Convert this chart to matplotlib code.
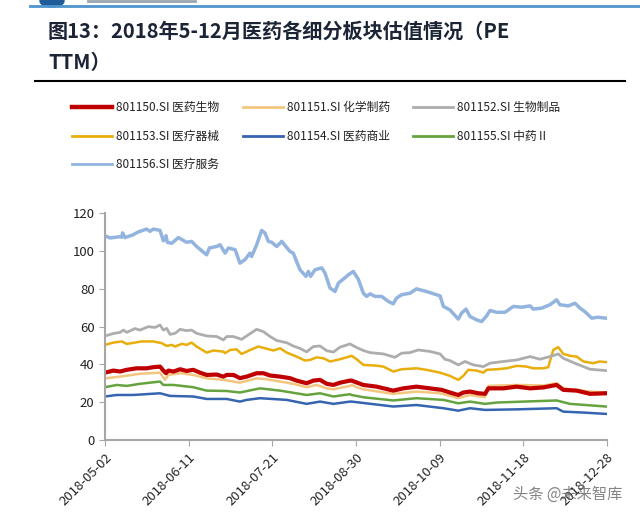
#!/usr/bin/env python3
"""PE TTM of pharma sub-sectors, May-Dec 2018."""

import matplotlib
matplotlib.use("Agg")
import matplotlib.pyplot as plt
import matplotlib.dates as mdates
from matplotlib.lines import Line2D
from matplotlib.patches import Ellipse
import pandas as pd

plt.rcParams["font.family"] = ["Noto Sans CJK SC", "DejaVu Sans"]

START = pd.Timestamp("2018-05-02")

# x values are days since 2018-05-02
svc_days = [0, 2.4, 7.2, 8.0, 8.4, 9.6, 13.5, 15.9, 19.9, 21.5, 23.1, 26.3, 27.9, 29.2, 29.8,
            31.9, 35.1, 39.0, 41.4, 43.8, 48.6, 49.9, 53.4, 55.0, 57.4, 59.0, 62.2, 64.5, 66.9,
            69.3, 70.1, 72.5, 74.9, 76.5, 78.1, 79.7, 82.1, 84.5, 88.4, 90.0, 93.2, 96.1, 97.2,
            98.3, 100.4, 103.6, 105.2, 107.6, 110.0, 111.6, 113.9, 116.3, 118.7, 121.1, 123.5,
            125.1, 126.7, 129.1, 132.3, 135.5, 137.8, 139.4, 141.8, 145.8, 148.9, 153.7, 160.2,
            161.8, 164.9, 168.9, 170.5, 172.6, 174.5, 177.7, 180.1, 182.5, 184.1, 187.3, 191.2,
            195.2, 199.2, 203.2, 204.8, 208.8, 212.7, 215.9, 217.5, 221.5, 224.7, 227.1, 229.5,
            232.7, 235.5, 239.5]
svc_vals = [108, 106.8, 107.5, 107.2, 109.5, 107, 108.5, 110, 111.5, 110.3, 111.5, 110.8, 105.3,
            108, 104.5, 104, 107, 104.5, 105, 102.3, 97.9, 101.5, 102.3, 103.2, 98.8, 101.5,
            100.6, 93.5, 95.3, 98.8, 97, 103.2, 110.8, 109.4, 105, 104.5, 102.3, 105, 99.7,
            98.8, 90, 86.5, 89.1, 86.5, 90, 91, 88.2, 80.3, 78.5, 83, 85, 87.3, 89.1, 85, 77.6,
            75.9, 77.3, 75.9, 75.9, 73.2, 72, 75, 76.8, 77.6, 79.9, 78.5, 76.2, 70.6, 68.8, 63.9,
            67.1, 69.2, 65.3, 63.5, 62.6, 65.7, 68.5, 67.5, 67.5, 70.6, 70.2, 70.9, 69.2, 69.7,
            71.5, 74.1, 71.5, 70.9, 72.3, 69.7, 67.8, 64.4, 64.9, 64.4]

bio_days = [0, 4.0, 7.2, 8.8, 10.4, 14.3, 16.7, 20.7, 23.9, 26.3, 27.9, 29.5, 31.1, 33.5, 35.9,
            39.0, 41.4, 43.8, 48.6, 53.4, 56.6, 58.2, 61.4, 65.3, 68.5, 72.5, 75.7, 78.9, 82.1,
            86.9, 90.0, 93.2, 96.4, 99.6, 102.8, 106.0, 109.2, 112.4, 115.5, 117.1, 120.3, 123.5,
            126.7, 133.1, 138.6, 141.8, 145.8, 149.7, 155.4, 160.2, 162.5, 164.9, 168.9, 172.1,
            176.1, 180.9, 184.1, 190.4, 196.8, 203.2, 208.0, 212.7, 216.7, 219.1, 225.5, 231.9,
            239.5]
bio_vals = [55.0, 56.3, 56.9, 58.1, 56.9, 58.9, 58.1, 59.9, 59.5, 60.8, 58.1, 59, 55.8, 56.4,
            58.5, 57.8, 58.1, 56.4, 55.0, 54.7, 52.9, 54.7, 54.7, 53.2, 55.6, 58.5, 57.3, 54.7,
            52.6, 51.4, 49.7, 48.4, 46.6, 49.4, 49.7, 47.2, 46.5, 49.1, 50.2, 50.8, 48.9, 47.3,
            46.2, 45.5, 43.7, 45.9, 46.2, 47.6, 46.8, 45.5, 42.7, 42, 39.7, 41.5, 39.7, 38.8,
            40.6, 41.5, 42.3, 44.1, 42.7, 44.1, 45.5, 43.2, 40.2, 37.4, 36.7]

dev_days = [0, 4.0, 8.0, 10.4, 14.3, 17.5, 23.1, 27.1, 29.5, 31.9, 33.5, 36.7, 39.0, 41.4, 43.8,
            48.6, 51.8, 56.6, 57.4, 59.8, 62.9, 65.3, 70.1, 73.3, 76.5, 80.5, 83.7, 86.9, 91.6,
            95.6, 98.0, 101.2, 104.4, 107.6, 112.4, 117.9, 120.3, 123.5, 129.9, 133.1, 137.8,
            141.8, 148.9, 153.7, 160.2, 164.9, 168.9, 171.3, 173.7, 177.7, 180.9, 182.5, 187.3,
            192.0, 196.8, 201.6, 204.8, 209.6, 211.9, 214.3, 216.7, 219.1, 222.3, 225.5, 228.7,
            233.5, 236.3, 239.5]
dev_vals = [50.3, 51.5, 52.1, 50.8, 51.5, 52.1, 52.1, 51.2, 49.7, 50.3, 49.4, 50.8, 50.3, 51.5,
            49.4, 46.2, 47.3, 46.7, 45.9, 47.6, 47.9, 45.5, 47.9, 49.4, 48.5, 47.3, 48.5, 46.2,
            44.1, 42, 42.3, 43.7, 43.2, 41.5, 42.7, 44.5, 42.7, 39.7, 39.3, 38.8, 36.2, 37.4,
            37.9, 37.1, 35.6, 33.9, 31.8, 33.9, 37.1, 36.7, 35.6, 37.1, 37.4, 37.9, 39.2, 38.8,
            37.9, 37.9, 38.5, 47.6, 49.1, 45.5, 44.5, 44.1, 41.5, 40.6, 41.5, 41.2]

all_days = [0, 4.0, 7.2, 10.4, 15.1, 19.9, 23.1, 26.3, 27.9, 29.2, 30.3, 32.7, 35.9, 39.0, 42.2,
            45.4, 48.6, 53.4, 56.6, 58.2, 61.4, 64.5, 67.7, 72.5, 75.7, 78.9, 83.7, 88.4, 91.6,
            96.4, 99.6, 102.8, 106.0, 109.2, 112.4, 117.1, 117.9, 123.5, 129.9, 137.8, 142.6,
            148.9, 155.4, 161.0, 164.9, 168.9, 171.3, 174.5, 178.5, 181.7, 183.3, 190.4, 196.8,
            203.2, 209.6, 215.9, 219.1, 225.5, 231.9, 239.5]
all_vals = [35.6, 36.7, 36.2, 37.1, 37.9, 37.9, 38.5, 38.8, 36.7, 35.3, 36.7, 36.2, 37.4, 36.5,
            37.1, 35.6, 34.4, 34.6, 33.5, 34.4, 34.4, 32.7, 33.5, 35.3, 35.3, 34.1, 33.5, 32.7,
            31.4, 30.0, 31.4, 31.8, 29.7, 29.1, 30.3, 31.4, 31.4, 29.1, 28.2, 26.1, 27.3, 28.2,
            27.3, 26.5, 25.1, 23.8, 25.1, 25.6, 24.7, 24.4, 27.3, 27.3, 28.2, 27.3, 27.8, 29.1,
            26.5, 26.1, 24.4, 24.7]

chem_days = [0, 7.2, 16.7, 26.3, 28.7, 30.3, 35.9, 42.2, 48.6, 56.6, 64.5, 72.5, 77.3, 83.7,
             90.0, 96.4, 101.2, 106.0, 109.2, 117.1, 121.9, 117.9, 123.5, 137.8, 148.9, 160.2,
             168.9, 174.5, 181.7, 183.3, 196.8, 209.6, 215.9, 219.1, 231.9, 239.5]
chem_vals = [32.6, 33.5, 35, 35.6, 31.8, 34.4, 35.3, 34.4, 32.6, 31.8, 30.3, 32.6, 32.1, 30.9,
             29.7, 27.9, 29.1, 27.3, 26.8, 28.6, 27.3, 29.1, 26.8, 24.4, 25.6, 24.7, 22.1, 23.8,
             22.6, 28.6, 29.1, 28.8, 30.0, 27.3, 25.6, 25.1]

tcm_days = [0, 5.6, 10.4, 16.7, 26.3, 27.9, 32.7, 42.2, 48.6, 58.2, 64.5, 74.1, 83.7, 96.4, 102.8,
            109.2, 117.1, 117.9, 123.5, 137.8, 148.9, 161.8, 168.9, 174.5, 181.7, 187.3, 200.0,
            215.9, 222.3, 239.5]
tcm_vals = [27.9, 29.1, 28.6, 29.7, 30.9, 29.1, 29.1, 27.9, 26.1, 25.9, 25.1, 27.3, 26.1, 23.8,
            24.7, 23, 24.2, 23.8, 22.6, 20.9, 22.1, 21.2, 19.4, 20.3, 19.1, 19.8, 20.3, 20.9, 19.1,
            17.7]

dist_days = [0, 5.6, 13.5, 26.3, 31.1, 42.2, 48.6, 58.2, 64.5, 67.7, 74.1, 86.9, 96.4, 102.8,
             109.2, 117.1, 117.9, 137.8, 148.9, 161.8, 168.9, 174.5, 181.7, 196.8, 215.9, 219.1,
             228.7, 239.5]
dist_vals = [23, 23.8, 23.8, 24.7, 23.3, 23, 21.7, 21.7, 20.3, 21.2, 22.1, 21.2, 19.1, 20.3,
             19.1, 20.3, 20.3, 17.7, 18.5, 16.8, 15.5, 16.8, 15.9, 16.2, 16.8, 15.0, 14.5, 13.8]

series = [
    ("801150.SI 医药生物", all_days, all_vals, "#C00000", 3.0),
    ("801151.SI 化学制药", chem_days, chem_vals, "#F2C67E", 1.8),
    ("801152.SI 生物制品", bio_days, bio_vals, "#ADADAD", 2.0),
    ("801153.SI 医疗器械", dev_days, dev_vals, "#E9AE0B", 1.8),
    ("801154.SI 医药商业", dist_days, dist_vals, "#3564B0", 1.8),
    ("801155.SI 中药Ⅱ", tcm_days, tcm_vals, "#65A33E", 1.8),
    ("801156.SI 医疗服务", svc_days, svc_vals, "#92B4DE", 2.5),
]

tick_dates = ["2018-05-02", "2018-06-11", "2018-07-21", "2018-08-30",
              "2018-10-09", "2018-11-18", "2018-12-28"]


def main() -> int:
    fig = plt.figure(figsize=(6.4, 5.13), dpi=100)
    W, H = 640.0, 513.0
    ax = fig.add_axes([105 / W, 1 - 440 / H, 502 / W, 227 / H])

    # services at back, red drawn last
    for i in [6, 5, 4, 3, 2, 1, 0]:
        name, days, vals, color, lw = series[i]
        x = START + pd.to_timedelta(days, unit="D")
        s = pd.Series(vals, index=x).sort_index()
        ax.plot(s.index, s.values, color=color, lw=lw, solid_joinstyle="round")

    ax.set_ylim(0, 120)
    ax.set_yticks(range(0, 121, 20))
    ax.set_xlim(pd.Timestamp(tick_dates[0]), pd.Timestamp(tick_dates[-1]))
    ax.set_xticks([pd.Timestamp(d) for d in tick_dates])
    ax.xaxis.set_major_formatter(mdates.DateFormatter("%Y-%m-%d"))
    for lab in ax.get_xticklabels():
        lab.set_rotation(45)
        lab.set_ha("right")
        lab.set_rotation_mode("anchor")
    ax.tick_params(axis="both", labelsize=9.5, colors="#222222", length=4, color="#A6A6A6")
    ax.tick_params(axis="x", pad=4)
    for side in ("top", "right"):
        ax.spines[side].set_visible(False)
    for side in ("left", "bottom"):
        ax.spines[side].set_color("#A6A6A6")
        ax.spines[side].set_linewidth(1.5)

    # legend laid out by hand, Excel style: 3 columns, row-major
    col_x = [72, 243, 413]
    row_y = [107, 136, 164]
    for k, (name, _, _, color, lw) in enumerate(series):
        cx = col_x[k % 3]
        cy = row_y[k // 3]
        fig.add_artist(Line2D([cx / W, (cx + 40) / W], [1 - cy / H, 1 - cy / H],
                              color=color, lw=(3.2 if k == 0 else 2.0)))
        fig.text((cx + 44) / W, 1 - cy / H, name, fontsize=8.5, color="#222222",
                 va="center", ha="left")

    # header: cropped page banner, title, rule
    fig.add_artist(Line2D([30 / W, 1.0], [1 - 6 / H, 1 - 6 / H], color="#4F94CD", lw=2.0))
    fig.add_artist(Ellipse((52 / W, 1 - 1 / H), 24 / W, 12 / H, color="#1F5C99"))
    fig.add_artist(Line2D([88 / W, 195 / W], [1 - 1 / H, 1 - 1 / H], color="#9AA4AE", lw=2.0))
    fig.text(48 / W, 1 - 31 / H, "图13：2018年5-12月医药各细分板块估值情况（PE", fontsize=14.5,
             fontweight="bold", color="#1C2536", va="center")
    fig.text(48 / W, 1 - 62 / H, "TTM）", fontsize=14.5, fontweight="bold", color="#1C2536",
             va="center")
    fig.add_artist(Line2D([35 / W, 625 / W], [1 - 81 / H, 1 - 81 / H], color="black", lw=1.5))

    fig.text(0.972, 0.02, "头条 @未来智库", fontsize=11, color="#666666", ha="right",
             va="bottom", alpha=0.8)

    fig.savefig("out.png", dpi=100)
    plt.close(fig)
    return 0


if __name__ == "__main__":
    raise SystemExit(main())
